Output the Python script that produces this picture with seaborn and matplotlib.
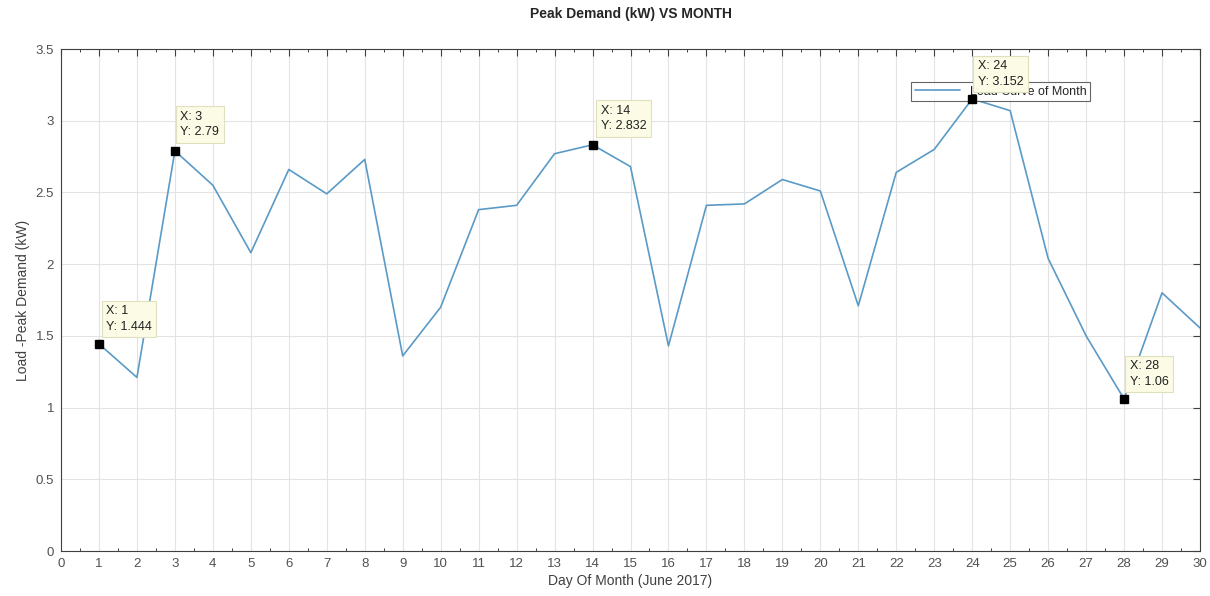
import numpy as np
import pandas as pd
import matplotlib
matplotlib.use("Agg")
import matplotlib.pyplot as plt
import seaborn as sns
from matplotlib.ticker import MultipleLocator

days = list(range(1, 31))
peak_kw = [1.444, 1.21, 2.79, 2.55, 2.08, 2.66, 2.49, 2.73, 1.36, 1.70,
           2.38, 2.41, 2.77, 2.832, 2.68, 1.43, 2.41, 2.42, 2.59, 2.51,
           1.71, 2.64, 2.80, 3.152, 3.07, 2.04, 1.50, 1.06, 1.80, 1.555]
tip_days = [1, 3, 14, 24, 28]

df = pd.DataFrame({"day": days, "peak": peak_kw})

sns.set_style("white")
plt.rcParams["font.family"] = ["Liberation Sans", "DejaVu Sans"]

fig = plt.figure(figsize=(12.1, 5.96), dpi=100)
ax = fig.add_axes([61 / 1210, 45 / 596, 1139 / 1210, 502 / 596])

sns.lineplot(data=df, x="day", y="peak", ax=ax, color="#5a9ac6", linewidth=1.2,
             label="Load Curve of Month")

ax.set_xlim(0, 30)
ax.set_ylim(0, 3.5)
ax.set_xticks(range(0, 31))
ax.xaxis.set_minor_locator(MultipleLocator(0.5))
ax.set_yticks(np.arange(0, 3.51, 0.5))
ax.set_yticklabels(["0", "0.5", "1", "1.5", "2", "2.5", "3", "3.5"])
ax.grid(True, which="major", color="#e3e3e3", linewidth=0.8)
ax.tick_params(which="major", direction="in", top=True, right=True, length=5, width=0.8,
               colors="#404040", labelsize=9.5, labelcolor="#505050", pad=5)
ax.tick_params(which="minor", axis="x", direction="in", top=True, bottom=True,
               length=2.5, width=0.7, colors="#404040")
for s in ax.spines.values():
    s.set_color("#404040")
    s.set_linewidth(0.8)
    s.set_visible(True)

ax.set_xlabel("Day Of Month (June 2017)", fontsize=10, color="#404040", labelpad=3)
ax.set_ylabel("Load -Peak Demand (kW)", fontsize=10, color="#404040")
ax.set_title("Peak Demand (kW) VS MONTH", fontsize=10, fontweight="bold", pad=22)

leg = ax.legend(loc="upper left", bbox_to_anchor=(0.741, 0.947), fontsize=9,
                frameon=True, fancybox=False, borderpad=0.3, handlelength=3.6)
leg.get_frame().set_edgecolor("#404040")
leg.get_frame().set_linewidth(0.8)
leg.set_zorder(4)

# data tips
tip_offsets = {1: (5, 8), 3: (4, 9), 14: (6, 9), 24: (4, 8), 28: (4, 8)}
for d in tip_days:
    v = peak_kw[d - 1]
    ax.plot(d, v, marker="s", color="black", markersize=6, zorder=5)
    txt = f"X: {d}\nY: {v:g}"
    ax.annotate(txt, xy=(d, v), xytext=tip_offsets[d], textcoords="offset points",
                fontsize=9, color="#202020", va="bottom", ha="left", zorder=6,
                linespacing=1.4,
                bbox=dict(boxstyle="square,pad=0.35", fc="#fcfce6", ec="#e0e0c0", lw=0.8))

fig.savefig("out.png", dpi=100)
